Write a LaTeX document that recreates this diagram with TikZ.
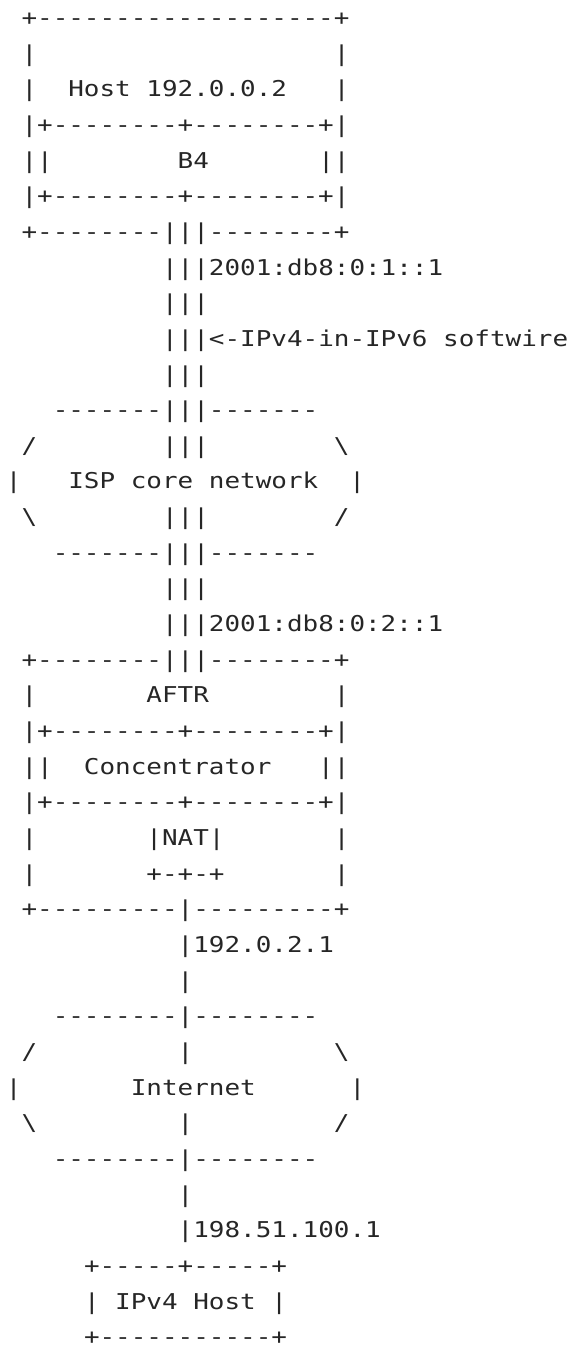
\documentclass[tikz,border=0pt]{standalone}
\usepackage{fontspec}
\setmonofont{DejaVu Sans Mono}[FakeStretch=1.19]
\usepackage{xcolor}
\usepackage{tikz}

\begin{document}
\begin{tikzpicture}[
  x=15.62pt, y=-35.66pt,
  ascii/.style={anchor=base west, inner sep=0pt, outer sep=0pt, text=black!85, font=\ttfamily\fontsize{21.8}{21.8}\selectfont}
]
\path[use as bounding box] (0pt,0pt) rectangle (569pt,-1345pt);

\begin{scope}[shift={(5.9pt,10.26pt)}]
% Host with B4
\node (hosttop) [ascii] at (1,1) {+-------------------+};
\node (hostgap) [ascii] at (1,2) {|~~~~~~~~~~~~~~~~~~~|};
\node (hostname) [ascii] at (1,3) {|~~Host~192.0.0.2~~~|};
\node (btop) [ascii] at (1,4) {|+--------+--------+|};
\node (bfour) [ascii] at (1,5) {||~~~~~~~~B4~~~~~~~||};
\node (bbottom) [ascii] at (1,6) {|+--------+--------+|};
\node (hostbottom) [ascii] at (1,7) {+--------|||--------+};

% Softwire down to the ISP core
\node (bfouraddr) [ascii] at (10,8) {|||2001:db8:0:1::1};
\node (wireA) [ascii] at (10,9) {|||};
\node (wirelabel) [ascii] at (10,10) {|||<-IPv4-in-IPv6~softwire};
\node (wireB) [ascii] at (10,11) {|||};

% ISP core network
\node (isptop) [ascii] at (3,12) {-------|||-------};
\node (ispupper) [ascii] at (1,13) {/~~~~~~~~|||~~~~~~~~\textbackslash};
\node (ispname) [ascii] at (0,14) {|~~~ISP~core~network~~|};
\node (isplower) [ascii] at (1,15) {\textbackslash~~~~~~~~|||~~~~~~~~/};
\node (ispbottom) [ascii] at (3,16) {-------|||-------};
\node (wireC) [ascii] at (10,17) {|||};
\node (aftraddr) [ascii] at (10,18) {|||2001:db8:0:2::1};

% AFTR with concentrator and NAT
\node (aftrtop) [ascii] at (1,19) {+--------|||--------+};
\node (aftrname) [ascii] at (1,20) {|~~~~~~~AFTR~~~~~~~~|};
\node (ctop) [ascii] at (1,21) {|+--------+--------+|};
\node (conc) [ascii] at (1,22) {||~~Concentrator~~~||};
\node (cbottom) [ascii] at (1,23) {|+--------+--------+|};
\node (nat) [ascii] at (1,24) {|~~~~~~~|NAT|~~~~~~~|};
\node (natbottom) [ascii] at (1,25) {|~~~~~~~+-+-+~~~~~~~|};
\node (aftrbottom) [ascii] at (1,26) {+---------|---------+};

% Link to the Internet
\node (nataddr) [ascii] at (11,27) {|192.0.2.1};
\node (linkA) [ascii] at (11,28) {|};

% Internet
\node (inettop) [ascii] at (3,29) {--------|--------};
\node (inetupper) [ascii] at (1,30) {/~~~~~~~~~|~~~~~~~~~\textbackslash};
\node (inetname) [ascii] at (0,31) {|~~~~~~~Internet~~~~~~|};
\node (inetlower) [ascii] at (1,32) {\textbackslash~~~~~~~~~|~~~~~~~~~/};
\node (inetbottom) [ascii] at (3,33) {--------|--------};
\node (linkB) [ascii] at (11,34) {|};
\node (hostaddr) [ascii] at (11,35) {|198.51.100.1};

% IPv4 host
\node (vfourtop) [ascii] at (5,36) {+-----+-----+};
\node (vfourname) [ascii] at (5,37) {|~IPv4~Host~|};
\node (vfourbottom) [ascii] at (5,38) {+-----------+};
\end{scope}

\end{tikzpicture}
\end{document}
